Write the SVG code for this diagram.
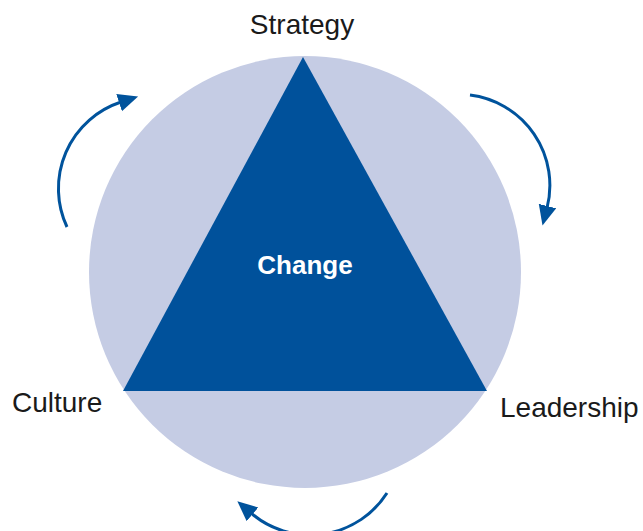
<svg xmlns="http://www.w3.org/2000/svg" width="643" height="531" viewBox="0 0 643 531">
<style>
.lbl{font-family:"Liberation Sans","Noto Sans",sans-serif;font-size:28px;fill:#1a1a1a}
.arc{fill:none;stroke:#00539c;stroke-width:3}
</style>
<defs>
<marker id="ah" markerUnits="userSpaceOnUse" markerWidth="22" markerHeight="20" refX="2" refY="9" orient="auto" viewBox="0 0 22 20">
<path d="M0,0 L20,9 L0,18 z" fill="#00539c"/>
</marker>
</defs>
<rect width="643" height="531" fill="#fff"/>
<g id="circle"><circle cx="305" cy="272" r="216" fill="#c5cce4"/></g>
<g id="change">
<polygon points="303,57 123,391 487,391" fill="#00519b"/>
<text x="305" y="274" text-anchor="middle" font-family="Liberation Sans,Noto Sans,sans-serif" font-size="26" font-weight="bold" fill="#fff">Change</text>
</g>
<g id="strategy"><text class="lbl" x="302" y="34" text-anchor="middle">Strategy</text></g>
<g id="culture"><text class="lbl" x="12" y="412">Culture</text></g>
<g id="leadership"><text class="lbl" x="500" y="417">Leadership</text></g>
<g id="connectors">
<path class="arc" d="M67,227 A91,91 0 0 1 121,102" marker-end="url(#ah)"/>
<path class="arc" d="M470,95 A91,91 0 0 1 547,208" marker-end="url(#ah)"/>
<path class="arc" d="M387,493 A91,91 0 0 1 251,513" marker-end="url(#ah)"/>
</g>
</svg>
